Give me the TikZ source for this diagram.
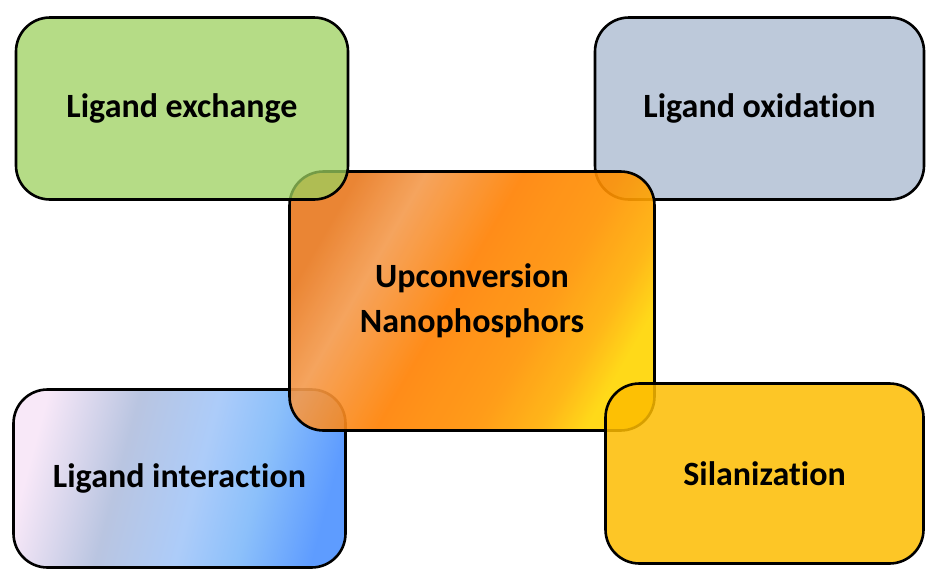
\documentclass[tikz,border=0pt]{standalone}
\usepackage{fontspec}
\setmainfont{Carlito}[Ligatures=NoCommon]
\usepackage{tikz}
\usetikzlibrary{positioning}
\definecolor{verde}{HTML}{9CD05E}
\definecolor{grisazul}{HTML}{BDC9DA}
\definecolor{amarillo}{HTML}{FDBC00}
\definecolor{naranjaosc}{HTML}{E8781E}
\definecolor{naranjacla}{HTML}{F49A4C}
\definecolor{naranja}{HTML}{FF8000}
\definecolor{dorado}{HTML}{FFD500}
% degradados de las cajas
\pgfdeclarehorizontalshading{fuego}{100bp}{color(0bp)=(naranjaosc); color(25bp)=(naranjaosc);
  color(34bp)=(naranjacla); color(47bp)=(naranja); color(60bp)=(naranja!80!dorado);
  color(69bp)=(naranja!45!dorado); color(75bp)=(dorado); color(100bp)=(dorado)}
\definecolor{rosa}{HTML}{F8E8F8}
\definecolor{celeste}{HTML}{8CC0FA}
\definecolor{azul}{HTML}{5E9CFF}
\pgfdeclarehorizontalshading{cielo}{100bp}{color(0bp)=(rosa); color(25bp)=(rosa);
  color(40bp)=(rosa!55!celeste!80!gray); color(53bp)=(rosa!30!celeste); color(63bp)=(celeste);
  color(75bp)=(azul); color(100bp)=(azul)}
\tikzset{
  caja/.style={rectangle,rounded corners=34pt,draw=black,line width=2.6pt,inner sep=0pt,
    font=\bfseries\fontsize{34}{45}\selectfont,text opacity=1},
  lateral/.style={caja,minimum width=332pt,minimum height=182pt},
  nucleo/.style={caja,minimum width=365pt,minimum height=259pt,align=center,
    shading=fuego,shading angle=-30,fill opacity=0.9}
}

\begin{document}
\begin{tikzpicture}[x=1pt,y=-1pt]
\useasboundingbox (0,0) rectangle (926,568);
% cajas de abajo
\node[lateral,fill=grisazul,minimum width=329pt] (oxidacion) at (759.5,108.5) {Ligand oxidation};
\node[lateral,shading=cielo,shading angle=-15,minimum height=178pt] (interaccion) at (179.5,478.5) {Ligand interaction};
% centro
\node[nucleo] (upcon) at (472,301) {Upconversion\\Nanophosphors};
% cajas de arriba, semitransparentes
\node[lateral,fill=verde,fill opacity=0.75] (intercambio) at (182,108.5) {Ligand exchange};
\node[lateral,fill=amarillo,fill opacity=0.85,minimum width=318pt,minimum height=180pt] (silanizacion) at (764.5,473.5) {Silanization};
\end{tikzpicture}
\end{document}
